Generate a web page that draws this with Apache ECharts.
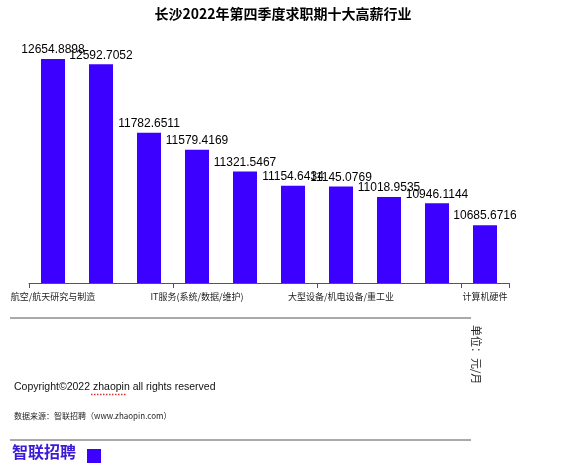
<!DOCTYPE html>
<html>
<head>
<meta charset="utf-8">
<script src="https://cdn.jsdelivr.net/npm/echarts@6/dist/echarts.min.js"></script>
<style>
html,body{margin:0;padding:0;background:#fff;}
#main{width:566px;height:475px;}
</style>
</head>
<body>
<div id="main"></div>
<script>
// 行业名称
var industries = ['航空/航天研究与制造', '互联网/电子商务', '通信/电信运营', 'IT服务(系统/数据/维护)', '电子技术/半导体', '基金/证券/期货', '大型设备/机电设备/重工业', '新能源', '汽车/摩托车', '计算机硬件'];
// 平均月薪（元/月）
var salaries = [12654.8898, 12592.7052, 11782.6511, 11579.4169, 11321.5467, 11154.6434, 11145.0769, 11018.9535, 10946.1144, 10685.6716];
var valueMin = 10000;
var valueMax = 13000;

var myChart = echarts.init(document.getElementById('main'));

var option = {
    backgroundColor: '#fff',
    animation: false,
    title: {
        text: '长沙2022年第四季度求职期十大高薪行业',
        left: 'center',
        top: 2,
        textStyle: {
            fontSize: 14,
            fontWeight: 'bold',
            color: '#000',
            fontFamily: 'Noto Sans CJK SC'
        }
    },
    grid: {
        left: 29,
        right: 57,
        top: 30,
        bottom: 192
    },
    xAxis: {
        type: 'category',
        data: industries,
        axisLine: {lineStyle: {color: '#555', width: 1}},
        axisTick: {show: true, alignWithLabel: false, lineStyle: {color: '#555'}},
        axisLabel: {
            interval: 2,
            color: '#222',
            fontSize: 9,
            margin: 9,
            fontFamily: 'Noto Sans CJK SC'
        }
    },
    yAxis: {
        type: 'value',
        min: valueMin,
        max: valueMax,
        show: false,
        splitLine: {show: false}
    },
    series: [
        {
            type: 'bar',
            data: salaries,
            barWidth: '50%',
            itemStyle: {color: '#3b00ff'},
            label: {
                show: true,
                position: 'top',
                color: '#000',
                fontSize: 12,
                distance: 3,
                fontFamily: 'Liberation Sans'
            }
        }
    ],
    graphic: [
        {
            type: 'line',
            shape: {x1: 10, y1: 318, x2: 471, y2: 318},
            style: {stroke: '#555', lineWidth: 1}
        },
        {
            type: 'line',
            shape: {x1: 10, y1: 440, x2: 471, y2: 440},
            style: {stroke: '#555', lineWidth: 1}
        },
        {
            type: 'text',
            x: 482,
            y: 325,
            rotation: -Math.PI / 2,
            style: {
                text: '单位：元/月',
                fill: '#222',
                fontSize: 11,
                fontFamily: 'Noto Sans CJK SC'
            }
        },
        {
            type: 'text',
            x: 14,
            y: 382,
            style: {
                text: 'Copyright©2022 zhaopin all rights reserved',
                fill: '#111',
                fontSize: 10.5,
                fontFamily: 'Liberation Sans'
            }
        },
        {
            type: 'line',
            shape: {x1: 91, y1: 394.5, x2: 127, y2: 394.5},
            style: {stroke: '#e03030', lineWidth: 1.5, lineDash: [1.5, 1.5]}
        },
        {
            type: 'text',
            x: 14,
            y: 412,
            style: {
                text: '数据来源：智联招聘（www.zhaopin.com）',
                fill: '#222',
                fontSize: 8,
                fontFamily: 'Noto Sans CJK SC'
            }
        },
        {
            type: 'text',
            x: 12,
            y: 444,
            style: {
                text: '智联招聘',
                fill: '#3c1ad6',
                fontSize: 16,
                fontWeight: 'bold',
                fontFamily: 'Noto Sans CJK SC'
            }
        },
        {
            type: 'rect',
            shape: {x: 87, y: 449, width: 14, height: 14},
            style: {fill: '#3b00ff'}
        }
    ]
};

myChart.setOption(option);
</script>
</body>
</html>
